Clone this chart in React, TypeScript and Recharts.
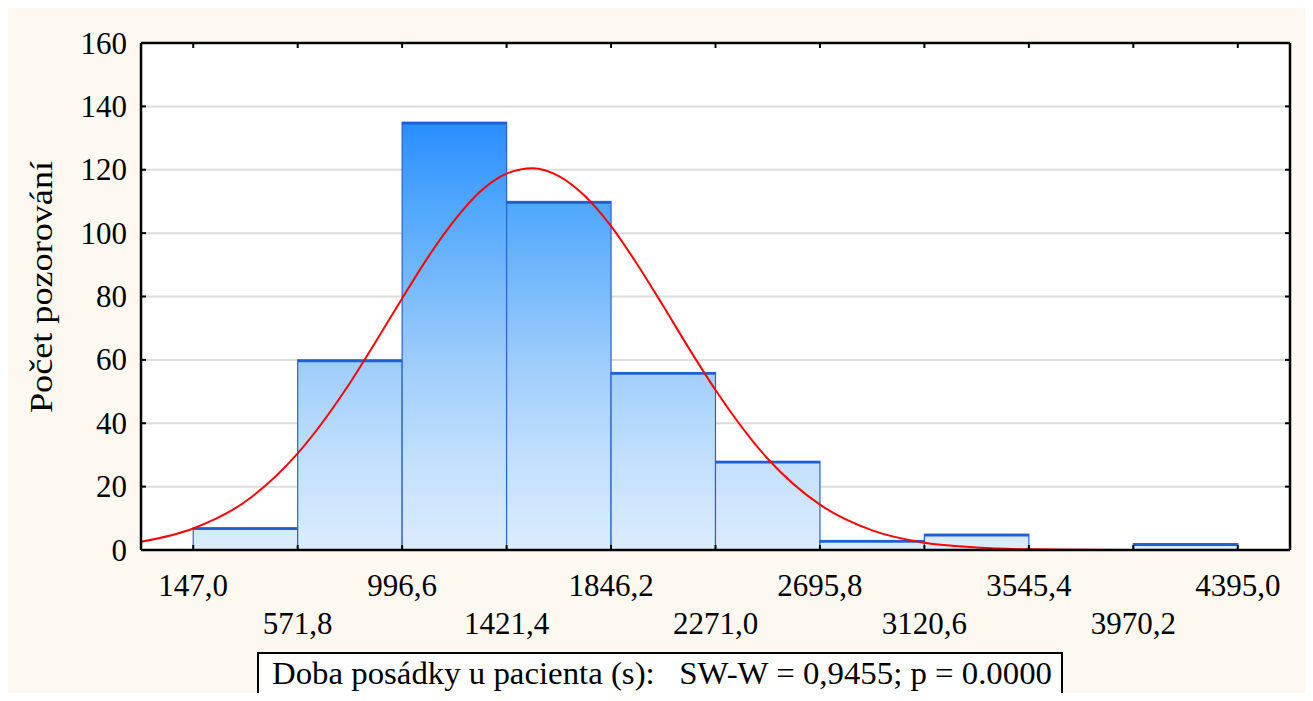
import React from "react";
import {
  ComposedChart,
  Line,
  XAxis,
  YAxis,
  CartesianGrid,
  ReferenceArea,
  Customized,
} from "recharts";

// histogram bins (edges + counts)
const binEdges = [147.0, 571.8, 996.6, 1421.4, 1846.2, 2271.0, 2695.8, 3120.6, 3545.4, 3970.2, 4395.0];
const edgeLabels = ["147,0", "571,8", "996,6", "1421,4", "1846,2", "2271,0", "2695,8", "3120,6", "3545,4", "3970,2", "4395,0"];
const binCounts = [7, 60, 135, 110, 56, 28, 3, 5, 0, 2];

const yTicks = [0, 20, 40, 60, 80, 100, 120, 140, 160];

// fitted normal curve
const curveX = [
  -65.4, 147.0, 359.4, 571.8, 784.2, 890.4, 996.6, 1102.8, 1209.0, 1315.2, 1421.4, 1527.6,
  1633.8, 1740.0, 1846.2, 1952.4, 2058.6, 2164.8, 2271.0, 2483.4, 2695.8, 2908.2, 3120.6,
  3333.0, 3545.4, 3757.8, 3970.2, 4182.6, 4395.0, 4607.4,
];
const curveFit = [
  2.6, 6.8, 15.3, 30.5, 52.7, 65.9, 79.4, 92.5, 104.0, 113.2, 118.8, 120.5,
  118.0, 111.7, 102.2, 90.2, 77.0, 63.4, 50.5, 28.8, 14.3, 6.2, 2.3,
  0.8, 0.2, 0.05, 0, 0, 0, 0,
];

const xDomain = [-65.4, 4607.4];
const FONT = "'Liberation Serif', 'Times New Roman', serif";

const curveData = curveX.map((x, i) => ({ x, fit: curveFit[i] }));

const BottomTick = ({ x, y, payload }: any) => {
  const i = binEdges.indexOf(payload.value);
  const second = i % 2 === 1;
  return (
    <g>
      <line x1={x} x2={x} y1={y} y2={y - 5} stroke="#000" strokeWidth={2} />
      <text x={x} y={y + (second ? 84 : 46)} textAnchor="middle" fontSize={31} fontFamily={FONT} fill="#000">
        {edgeLabels[i]}
      </text>
    </g>
  );
};

const TopTick = ({ x, y }: any) => (
  <line x1={x} x2={x} y1={y} y2={y + 5} stroke="#000" strokeWidth={2} />
);

const LeftTick = ({ x, y, payload }: any) => (
  <g>
    <line x1={x} x2={x + 5} y1={y} y2={y} stroke="#000" strokeWidth={2} />
    <text x={x - 14} y={y} dy={10.5} textAnchor="end" fontSize={31} fontFamily={FONT} fill="#000">
      {payload.value}
    </text>
  </g>
);

const RightTick = ({ x, y }: any) => (
  <line x1={x} x2={x - 5} y1={y} y2={y} stroke="#000" strokeWidth={2} />
);

const BinShape = (props: any) => {
  const { x, y, width, height } = props;
  return (
    <g>
      <rect x={x} y={y} width={width} height={height} fill="url(#binFill)" stroke="#2563d6" strokeWidth={1.2} />
      <line x1={x} x2={x + width} y1={y + 1} y2={y + 1} stroke="#1f5fd4" strokeWidth={2.5} />
    </g>
  );
};

const Labels = () => (
  <g fontFamily={FONT} fill="#000">
    <text x={44} y={279} transform="rotate(-90, 44, 279)" textAnchor="middle" fontSize={32} textLength={252} lengthAdjust="spacingAndGlyphs">
      Počet pozorování
    </text>
    <rect x={250} y={645} width={804} height={60} fill="#fff" stroke="#000" strokeWidth={2} />
    <text x={264} y={676} fontSize={31} textLength={780} lengthAdjust="spacingAndGlyphs" xmlSpace="preserve">
      {"Doba posádky u pacienta (s):   SW-W = 0,9455; p = 0.0000"}
    </text>
  </g>
);

export default function App() {
  return (
    <div style={{ width: 1300, height: 693, background: "#fdf9f0", overflow: "hidden", marginBottom: -8 }}>
      <ComposedChart
        width={1300}
        height={693}
        data={curveData}
        margin={{ top: 34, right: 17, bottom: 0, left: 0 }}
      >
        <defs>
          <linearGradient id="binFill" gradientUnits="userSpaceOnUse" x1={0} y1={114} x2={0} y2={542}>
            <stop offset="0" stopColor="#2a8cff" />
            <stop offset="0.185" stopColor="#4ea6fd" />
            <stop offset="0.556" stopColor="#9dccfb" />
            <stop offset="0.794" stopColor="#c2e0fc" />
            <stop offset="1" stopColor="#dcecfd" />
          </linearGradient>
        </defs>
        <CartesianGrid vertical={false} stroke="#dcdcdc" strokeWidth={2} fill="#fff" />
        <XAxis
          dataKey="x"
          type="number"
          domain={xDomain}
          ticks={binEdges}
          interval={0}
          allowDataOverflow
          height={151}
          tickSize={0}
          tickMargin={0}
          tickLine={false}
          axisLine={{ stroke: "#000", strokeWidth: 2.5 }}
          tick={<BottomTick />}
        />
        <XAxis
          xAxisId="top"
          dataKey="x"
          orientation="top"
          type="number"
          domain={xDomain}
          ticks={binEdges}
          interval={0}
          allowDataOverflow
          height={1}
          tickSize={0}
          tickMargin={0}
          tickLine={false}
          axisLine={{ stroke: "#000", strokeWidth: 2.5 }}
          tick={<TopTick />}
        />
        <YAxis
          type="number"
          domain={[0, 160]}
          ticks={yTicks}
          interval={0}
          allowDataOverflow
          width={133}
          tickSize={0}
          tickMargin={0}
          tickLine={false}
          axisLine={{ stroke: "#000", strokeWidth: 2.5 }}
          tick={<LeftTick />}
        />
        <YAxis
          yAxisId="r"
          orientation="right"
          type="number"
          domain={[0, 160]}
          ticks={yTicks}
          interval={0}
          allowDataOverflow
          width={1}
          tickSize={0}
          tickMargin={0}
          tickLine={false}
          axisLine={{ stroke: "#000", strokeWidth: 2.5 }}
          tick={<RightTick />}
        />
        {binCounts.map((c, i) =>
          c > 0 ? (
            <ReferenceArea
              key={i}
              x1={binEdges[i]}
              x2={binEdges[i + 1]}
              y1={0}
              y2={c}
              shape={<BinShape />}
            />
          ) : null
        )}
        <Line
          type="monotone"
          dataKey="fit"
          stroke="#ff0000"
          strokeWidth={2}
          dot={false}
          activeDot={false}
          isAnimationActive={false}
        />
        {/* invisible twin so the top and right frame axes get drawn */}
        <Line
          xAxisId="top"
          yAxisId="r"
          dataKey="fit"
          stroke="none"
          dot={false}
          activeDot={false}
          isAnimationActive={false}
        />
        <Customized component={Labels} />
      </ComposedChart>
    </div>
  );
}
